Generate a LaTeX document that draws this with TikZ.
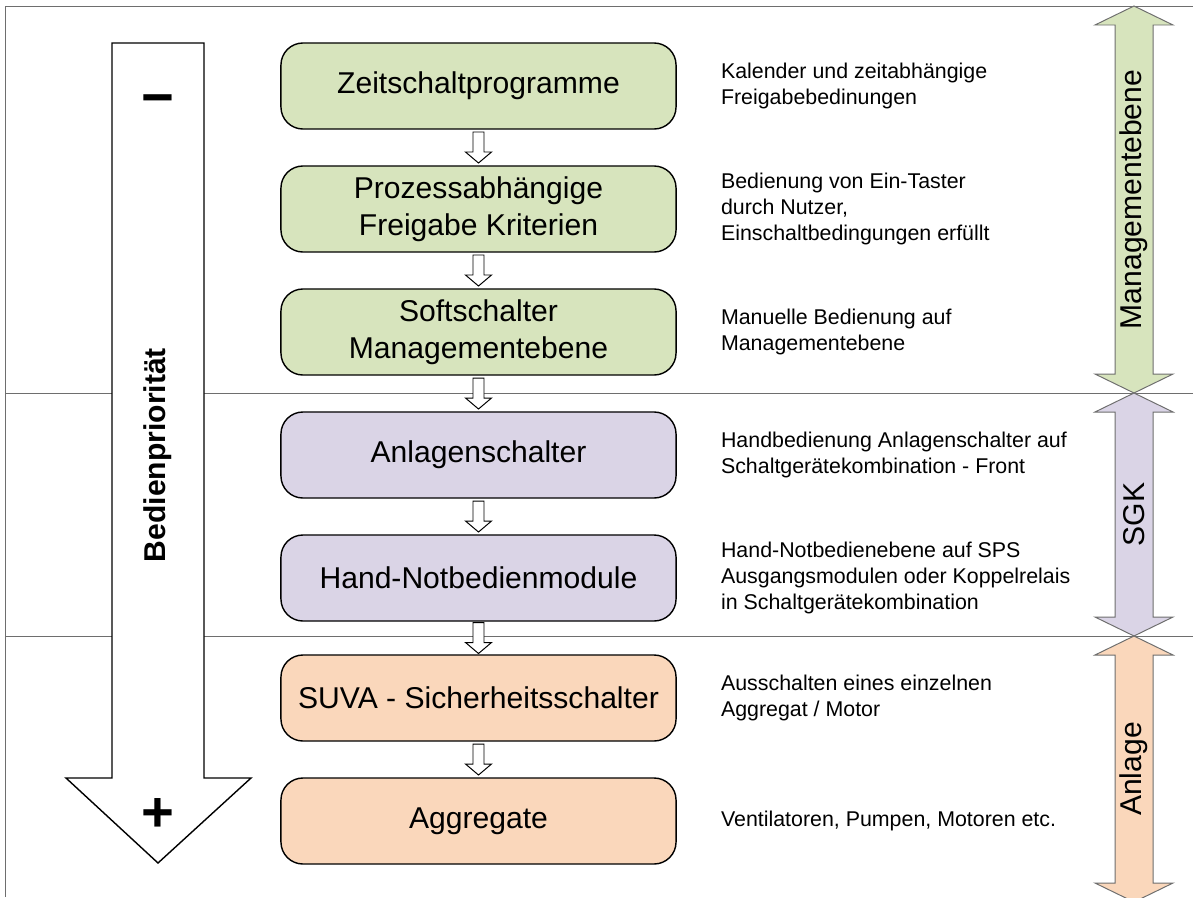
\documentclass[tikz,border=0pt]{standalone}
\usepackage{fontspec}
\setmainfont{Liberation Sans}
\usepackage{xcolor}
\usepackage{tikz}
\usetikzlibrary{positioning,calc}
\definecolor{mgmtgreen}{RGB}{215, 228, 189}
\definecolor{sgkpurple}{RGB}{218, 212, 230}
\definecolor{anlorange}{RGB}{250, 215, 187}
\definecolor{framegray}{RGB}{110, 110, 110}

\begin{document}
\begin{tikzpicture}[x=0.025cm, y=-0.025cm,
    stufe/.style={draw, line width=1pt, rounded corners=0.55cm, minimum width=9.875cm, minimum height=2.15cm, align=center, inner sep=2pt, font=\fontsize{21.4}{26.3}\selectfont},
    desc/.style={anchor=west, align=left, inner sep=0pt, font=\fontsize{15.2}{18.5}\selectfont},
    seite/.style={rotate=90, inner sep=0pt, font=\fontsize{21.4}{26}\selectfont},
    pfeilchen/.pic={\draw[line width=0.7pt, fill=white] (-5.5,-15.5) -- (5.5,-15.5) -- (5.5,4.5) -- (13,4.5) -- (0,15.5) -- (-13,4.5) -- (-5.5,4.5) -- cycle;}
  ]
            \useasboundingbox (0,0) rectangle (1193,897);

            % Frame and level lines
            \draw[framegray, line width=0.7pt] (5,897) -- (5,6) -- (1193,6);
            \draw[framegray, line width=0.7pt] (5,393) -- (1193,393) (5,636) -- (1193,636);

            % Priority arrow
            \draw[line width=1pt, fill=white] (112,43) -- (204,43) -- (204,778) -- (251,778) -- (158,863) -- (66,778) -- (112,778) -- cycle;
            \node[rotate=90, inner sep=0pt, font=\bfseries\fontsize{21.4}{26}\selectfont] (prio) at (158,455) {Bedienpriorität};
            \node[anchor=base, inner sep=0pt, font=\bfseries\fontsize{40}{40}\selectfont] (minus) at (158,116) {−};
            \node[anchor=base, inner sep=0pt, font=\bfseries\fontsize{40}{40}\selectfont] (plus) at (158,831) {+};

            % Levels
            \node[stufe, fill=mgmtgreen] (zeit) at (478.5,86) {Zeitschaltprogramme};
            \node[stufe, fill=mgmtgreen] (prozess) at (478.5,209) {Prozessabhängige\\Freigabe Kriterien};
            \node[stufe, fill=mgmtgreen] (soft) at (478.5,332) {Softschalter\\Managementebene};
            \node[stufe, fill=sgkpurple] (anlagen) at (478.5,455) {Anlagenschalter};
            \node[stufe, fill=sgkpurple] (hand) at (478.5,578) {Hand-Notbedienmodule};
            \node[stufe, fill=anlorange] (suva) at (478.5,698) {SUVA - Sicherheitsschalter};
            \node[stufe, fill=anlorange] (aggr) at (478.5,821) {Aggregate};

            \foreach \a/\b in {zeit/prozess, prozess/soft, soft/anlagen, anlagen/hand, hand/suva, suva/aggr}
                \pic at ($(\a.south)!0.5!(\b.north)$) {pfeilchen};

            % Descriptions
            \node[desc, right=1.1cm of zeit] (d-zeit) {Kalender und zeitabhängige\\Freigabebedinungen};
            \node[desc, right=1.1cm of prozess] (d-prozess) {Bedienung von Ein-Taster\\durch Nutzer,\\Einschaltbedingungen erfüllt};
            \node[desc, right=1.1cm of soft] (d-soft) {Manuelle Bedienung auf\\Managementebene};
            \node[desc, right=1.1cm of anlagen] (d-anlagen) {Handbedienung Anlagenschalter auf\\Schaltgerätekombination - Front};
            \node[desc, right=1.1cm of hand] (d-hand) {Hand-Notbedienebene auf SPS\\Ausgangsmodulen oder Koppelrelais\\in Schaltgerätekombination};
            \node[desc, right=1.1cm of suva] (d-suva) {Ausschalten eines einzelnen\\Aggregat / Motor};
            \node[desc, right=1.1cm of aggr] (d-aggr) {Ventilatoren, Pumpen, Motoren etc.};

            % Side arrows
            \foreach \oben/\unten/\farbe/\kurz/\beschr in {6/393/mgmtgreen/mgmt/Managementebene, 393/636/sgkpurple/sgk/SGK, 636/902/anlorange/anl/Anlage} {
                \draw[framegray, line width=0.7pt, fill=\farbe] (1134,\oben) -- (1173,\oben+19) -- (1153,\oben+19) -- (1153,\unten-19) -- (1173,\unten-19) -- (1134,\unten) -- (1095,\unten-19) -- (1115,\unten-19) -- (1115,\oben+19) -- (1095,\oben+19) -- cycle;
                \node[seite] (\kurz) at (1134,{(\oben+\unten)/2}) {\beschr};
            }
        \end{tikzpicture}
\end{document}
